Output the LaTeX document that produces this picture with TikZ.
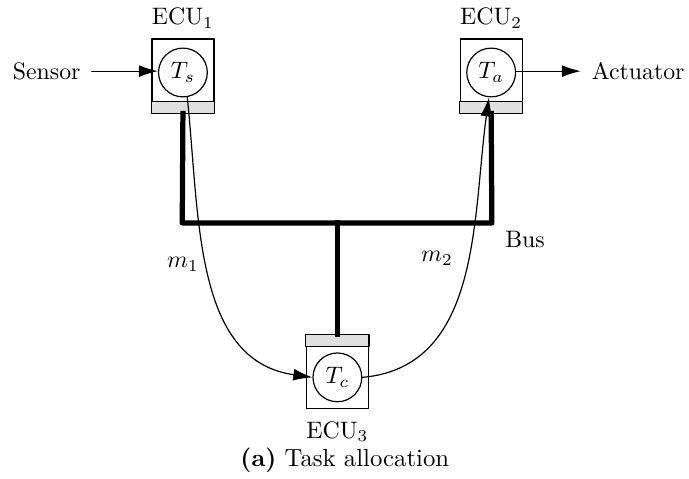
\documentclass[tikz,border=0pt]{standalone}
\usetikzlibrary{arrows.meta}
\definecolor{Sfill}{RGB}{224,224,224}

\begin{document}
\begin{tikzpicture}[line cap=round,line join=round,
  ecubox/.style={rectangle,draw,line width=0.5pt,minimum width=0.915cm,minimum height=1.09cm,inner sep=0pt},
  task/.style={circle,draw,line width=0.5pt,minimum size=0.72cm,inner sep=0pt,fill=white},
  bus/.style={line width=2.2pt,line cap=rect},
  wire/.style={line width=0.5pt,-{Latex[length=8pt,width=5pt]}},
  lbl/.style={inner sep=1pt}]
\path[use as bounding box] (0,0) rectangle (10.17,-7.07);
% electronic control units
\node[ecubox] (ecu1) at (2.70,-1.12) {};
\node[ecubox] (ecu2) at (7.25,-1.12) {};
\node[ecubox] (ecu3) at (4.98,-5.49) {};
% grey bus connector strips
\draw[fill=Sfill,line width=0.5pt] (ecu1.south west) rectangle ([yshift=0.18cm]ecu1.south east);
\draw[fill=Sfill,line width=0.5pt] (ecu2.south west) rectangle ([yshift=0.18cm]ecu2.south east);
\draw[fill=Sfill,line width=0.5pt] (ecu3.north west) rectangle ([yshift=-0.18cm]ecu3.north east);
% tasks
\node[task] (ts) at (2.70,-1.07) {$T_s$};
\node[task] (ta) at (7.25,-1.07) {$T_a$};
\node[task] (tc) at (4.98,-5.57) {$T_c$};
\node[lbl] (ecuname1) at (2.70,-0.27) {ECU$_1$};
\node[lbl] (ecuname2) at (7.25,-0.27) {ECU$_2$};
\node[lbl] (ecuname3) at (4.98,-6.37) {ECU$_3$};
% bus
\coordinate (busl) at (2.69,-3.29);
\coordinate (busr) at (7.26,-3.29);
\coordinate (busm) at (4.98,-3.29);
\draw[bus] (ecu1.south) -- (busl) -- (busr) -- (ecu2.south);
\draw[bus] (busm) -- (ecu3.north);
\node[lbl] (buslabel) at (7.75,-3.53) {Bus};
% sensor and actuator
\node[lbl] (sensor) at (0.69,-1.05) {Sensor};
\node[lbl] (actuator) at (9.42,-1.05) {Actuator};
\draw[wire] (sensor.east) ++(0.12,0) -- (ts.west |- sensor.east);
\draw[wire] (ta.east |- actuator.west) -- ([xshift=-0.12cm]actuator.west);
% messages
\draw[wire] (ts.-80) to[out=-84,in=172] (tc.west);
\draw[wire] (tc.east) to[out=5,in=-98] (ta.-95);
\node[lbl] (m1) at (2.70,-3.90) {$m_1$};
\node[lbl] (m2) at (6.45,-3.81) {$m_2$};
\node[lbl,scale=1.04] (caption) at (5.09,-6.80) {\textbf{(a)} Task allocation};
\end{tikzpicture}
\end{document}
